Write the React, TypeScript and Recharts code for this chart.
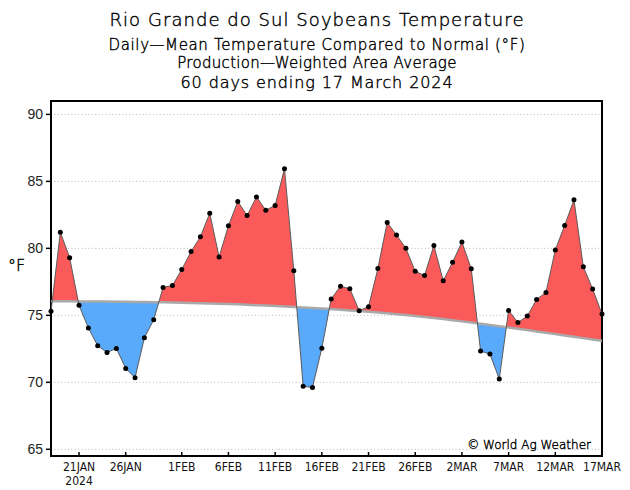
import React from 'react'
import {
  ComposedChart, Area, Line, XAxis, YAxis, CartesianGrid, ReferenceArea,
} from 'recharts'

// 60 days ending 17 March 2024 (day 0 = 18 Jan)
const temps = [
  75.3, 81.2, 79.3, 75.75, 74.06, 72.73, 72.23, 72.53, 71.04, 70.35,
  73.32, 74.68, 77.08, 77.23, 78.42, 79.76, 80.87, 82.63, 79.36, 81.69,
  83.5, 82.45, 83.84, 82.85, 83.2, 85.94, 78.32, 69.71, 69.61, 72.55,
  76.22, 77.18, 76.98, 75.35, 75.65, 78.49, 81.93, 80.99, 80.0, 78.29,
  77.97, 80.22, 77.58, 78.96, 80.47, 78.47, 72.33, 72.11, 70.25, 75.37,
  74.46, 74.95, 76.19, 76.71, 79.88, 81.71, 83.62, 78.62, 76.96, 75.1,
]
const normals = [
  76.05, 76.05, 76.05, 76.04, 76.04, 76.03, 76.03, 76.02, 76.01, 76.0,
  75.99, 75.98, 75.97, 75.95, 75.94, 75.92, 75.9, 75.88, 75.86, 75.84,
  75.82, 75.79, 75.76, 75.73, 75.7, 75.66, 75.62, 75.59, 75.55, 75.51,
  75.47, 75.42, 75.37, 75.32, 75.27, 75.21, 75.15, 75.09, 75.02, 74.95,
  74.88, 74.8, 74.72, 74.63, 74.55, 74.46, 74.37, 74.28, 74.19, 74.1,
  74.0, 73.9, 73.8, 73.7, 73.6, 73.5, 73.4, 73.3, 73.2, 73.1,
]
const tickDays = [3, 8, 14, 19, 24, 29, 34, 39, 44, 49, 54, 59]
const tickLabels = ['21JAN', '26JAN', '1FEB', '6FEB', '11FEB', '16FEB', '21FEB', '26FEB', '2MAR', '7MAR', '12MAR', '17MAR']
const yTicks = [65, 70, 75, 80, 85, 90]

const RED = '#fb5a5a'
const BLUE = '#5aaafc'

const data = temps.map((t, i) => ({ day: i, temp: t, normal: normals[i], range: [normals[i], t] }))

// colour stops for the fill: red above normal, blue below (switch where lines cross)
function fillStops() {
  const last = temps.length - 1
  const col = (i: number) => (temps[i] - normals[i] >= 0 ? RED : BLUE)
  const stops: { off: number; c: string }[] = [{ off: 0, c: col(0) }]
  for (let i = 0; i < last; i++) {
    const a = temps[i] - normals[i]
    const b = temps[i + 1] - normals[i + 1]
    if ((a >= 0) !== (b >= 0)) {
      const off = (i + a / (a - b)) / last
      stops.push({ off, c: col(i) })
      stops.push({ off, c: col(i + 1) })
    }
  }
  stops.push({ off: 1, c: col(last) })
  return stops
}

const tickFont = "'Liberation Sans Narrow', 'DejaVu Sans Condensed', 'Liberation Sans'"

const XTick = (props: any) => {
  const { x, y, payload } = props
  const idx = tickDays.indexOf(payload.value)
  return (
    <g>
      <line x1={x} x2={x} y1={y} y2={y - 4} stroke="#000" strokeWidth={1.5} />
      <text x={x} y={y + 15} textAnchor="middle" fontSize={12} fill="#111" fontFamily={tickFont}>
        {tickLabels[idx]}
      </text>
      {idx === 0 && (
        <text x={x} y={y + 29} textAnchor="middle" fontSize={12} fill="#111" fontFamily={tickFont}>
          2024
        </text>
      )}
    </g>
  )
}

const hershey = "'DejaVu Sans', sans-serif"

export default function App() {
  const stops = fillStops()
  return (
    <div style={{ position: 'absolute', left: 0, top: 0, width: 630, height: 490, background: '#fff' }}>
      <ComposedChart width={630} height={490} data={data} margin={{ top: 101, right: 28, bottom: 0, left: 0 }}>
        <defs>
          <linearGradient id="signFill" x1="0" y1="0" x2="1" y2="0">
            {stops.map((s, i) => (
              <stop key={i} offset={s.off} stopColor={s.c} />
            ))}
          </linearGradient>
        </defs>
        <CartesianGrid vertical={false} stroke="#b8b8b8" strokeDasharray="1 2.4" />
        <XAxis type="number" dataKey="day" domain={[0, 59]} ticks={tickDays} height={34}
          axisLine={false} tickLine={false} tickSize={0} tickMargin={0} tick={<XTick />} interval={0} />
        <YAxis type="number" domain={[64.5, 91]} ticks={yTicks} width={51} allowDataOverflow
          axisLine={false} tickSize={5} tickMargin={3} tickLine={{ stroke: '#000', strokeWidth: 1.5 }}
          tick={{ fill: '#222', fontSize: 14, fontFamily: 'Liberation Sans' }} />
        <Area dataKey="range" fill="url(#signFill)" fillOpacity={1} stroke="none" isAnimationActive={false} />
        <Line dataKey="normal" stroke="#a9a9a9" strokeWidth={2.5} dot={false} isAnimationActive={false} />
        <Line dataKey="temp" stroke="#5a5a5a" strokeWidth={1} dot={{ r: 2.5, fill: '#000', stroke: 'none' }}
          isAnimationActive={false} />
        <ReferenceArea x1={0} x2={59} y1={64.5} y2={91} fill="none" stroke="#000" strokeWidth={2} />
      </ComposedChart>
      <svg width={630} height={490} style={{ position: 'absolute', left: 0, top: 0, pointerEvents: 'none' }}>
        <g fontFamily={hershey} fill="#000" stroke="#000" strokeWidth={0.4} fontWeight={200}>
          <g textAnchor="middle">
            <text x={317} y={26} fontSize={18} letterSpacing={1.05}>Rio Grande do Sul Soybeans Temperature</text>
            <text x={317} y={50} fontSize={15} letterSpacing={0.65}>Daily—Mean Temperature Compared to Normal (°F)</text>
            <text x={317} y={68} fontSize={15} letterSpacing={0.3}>Production—Weighted Area Average</text>
            <text x={317} y={88} fontSize={16} letterSpacing={0.9}>60 days ending 17 March 2024</text>
          </g>
          <text x={8} y={271} fontSize={16}>°F</text>
          <text x={591} y={449} fontSize={12} textAnchor="end">© World Ag Weather</text>
        </g>
      </svg>
    </div>
  )
}
